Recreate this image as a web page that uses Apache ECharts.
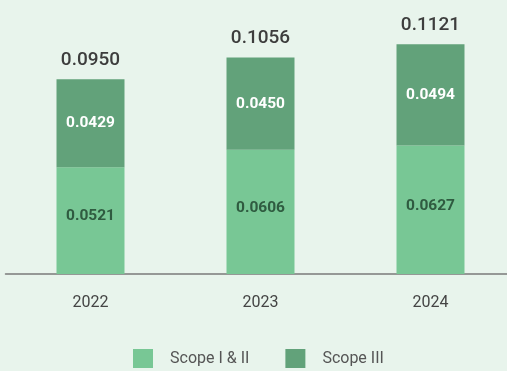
<!DOCTYPE html>
<html>
<head>
<meta charset="utf-8">
<script src="https://cdn.jsdelivr.net/npm/echarts@6/dist/echarts.min.js"></script>
<style>
  html, body { margin: 0; padding: 0; background: #e8f4ec; }
  #chart { width: 507px; height: 371px; }
</style>
</head>
<body>
<div id="chart"></div>
<script>
// Emission intensity by year, split by scope
const years = ['2022', '2023', '2024'];
const scope12 = [0.0521, 0.0606, 0.0627];
const scope3 = [0.0429, 0.0450, 0.0494];
const totals = [0.0950, 0.1056, 0.1121];
const seriesNames = ['Scope I & II', 'Scope III'];

const font = 'Roboto, "DejaVu Sans", sans-serif';
const chart = echarts.init(document.getElementById('chart'), null, { renderer: 'canvas' });

chart.setOption({
  backgroundColor: '#e8f4ec',
  animation: false,
  grid: { left: 5.5, right: -8.5, top: 7.5, bottom: 97, containLabel: false, outerBoundsMode: 'none' },
  legend: {
    data: seriesNames,
    left: 128,
    top: 344,
    itemWidth: 20,
    itemHeight: 19,
    itemGap: 36,
    icon: 'rect',
    textStyle: { color: '#555', fontSize: 16, fontFamily: font, padding: [0, 0, 0, 12] }
  },
  xAxis: {
    type: 'category',
    data: years,
    axisLine: { lineStyle: { color: '#7a7a7a', width: 1.5 } },
    axisTick: { show: false },
    axisLabel: { color: '#444', fontSize: 16, fontFamily: font, margin: 21 }
  },
  yAxis: {
    type: 'value',
    min: 0,
    max: 0.13,
    show: false,
    splitLine: { show: false }
  },
  series: [
    {
      name: seriesNames[0],
      type: 'bar',
      stack: 'total',
      barWidth: 68,
      data: scope12,
      itemStyle: { color: '#78c795' },
      label: {
        show: true,
        position: 'inside',
        offset: [0, -4],
        color: '#2f5b40',
        fontSize: 15.5,
        fontWeight: 'bold',
        fontFamily: font,
        formatter: p => p.value.toFixed(4)
      }
    },
    {
      name: seriesNames[1],
      type: 'bar',
      stack: 'total',
      barWidth: 68,
      data: scope3,
      itemStyle: { color: '#62a27a' },
      label: {
        show: true,
        position: 'inside',
        color: '#ffffff',
        fontSize: 15.5,
        fontWeight: 'bold',
        fontFamily: font,
        formatter: p => p.value.toFixed(4)
      }
    },
    {
      name: 'Total',
      type: 'line',
      data: totals,
      symbol: 'circle',
      symbolSize: 1,
      itemStyle: { color: 'transparent' },
      lineStyle: { width: 0, opacity: 0 },
      z: 5,
      label: {
        show: true,
        position: 'top',
        distance: 9,
        color: '#3d3d3d',
        fontSize: 19,
        fontWeight: 500,
        fontFamily: font,
        formatter: p => p.value.toFixed(4)
      }
    }
  ]
});
</script>
</body>
</html>
